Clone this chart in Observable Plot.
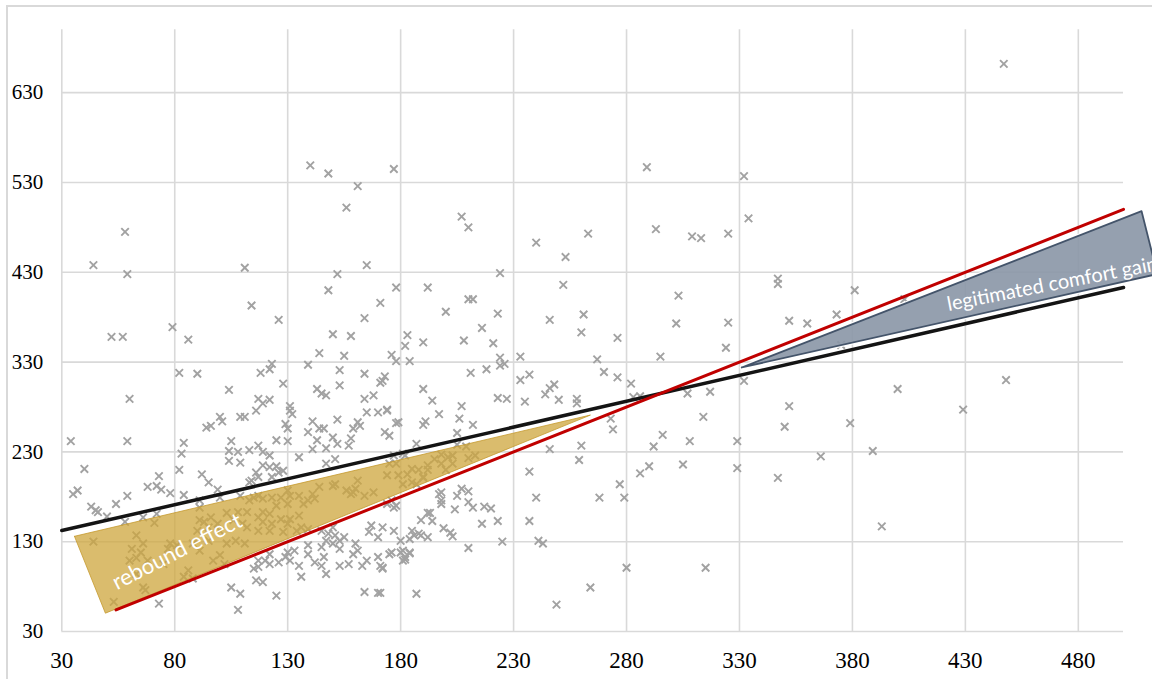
<!DOCTYPE html>
<html>
<head>
<meta charset="utf-8">
<script src="https://cdn.jsdelivr.net/npm/d3@7"></script>
<script src="https://cdn.jsdelivr.net/npm/@observablehq/plot@0.6"></script>
<style>
  html, body { margin: 0; padding: 0; background: #ffffff; overflow: hidden; }
  #wrap { position: relative; width: 1152px; height: 679px; overflow: hidden; }
  #frame { position: absolute; left: 6px; top: 5px; width: 1300px; height: 800px; border: 2px solid #d9d9d9; box-sizing: border-box; }
  #chart { position: absolute; left: 0; top: 0; }
</style>
</head>
<body>
<div id="wrap"><div id="frame"></div><div id="chart"></div></div>
<script>
// ---- axis ticks ----
const xTicks = [30, 80, 130, 180, 230, 280, 330, 380, 430, 480];
const yTicks = [30, 130, 230, 330, 430, 530, 630];
const xDomain = [30, 500];
const yDomain = [30, 700];

// ---- scatter observations [x, y] ----
const observations = [
  [447,662],[140,549],[148,540],[161,526],[177,545],[156,502],[289,547],[332,537],[334,490],[207,492],
  [210,480],[293,478],[309,470],[313,468],[325,473],[263,473],[240,463],[253,447],[58,475],[44,438],
  [59,428],[111,435],[224,429],[152,428],[165,438],[252,416],[178,413],[347,423],[347,417],[148,410],
  [192,413],[212,400],[210,400],[303,404],[381,410],[403,400],[373,383],[352,376],[360,373],[302,373],
  [325,374],[114,393],[126,377],[79,369],[86,355],[52,358],[57,358],[60,289],[34,242],[59,242],
  [40,211],[35,183],[37,187],[43,169],[45,165],
  [200,386],[223,384],[216,368],[183,360],[182,348],[190,352],[208,354],[221,351],[246,377],[261,383],
  [260,363],[276,357],[267,333],[324,346],[295,336],[176,338],[178,331],[184,331],[224,335],[226,328],
  [233,336],[224,326],[173,314],[172,309],[211,318],[218,322],[190,300],[194,287],[197,272],[207,281],
  [206,267],[212,260],[191,264],[178,262],[174,277],[223,290],[227,289],[233,310],[237,316],[235,286],
  [244,294],[246,301],[248,305],[250,288],[258,289],[258,284],[270,319],[276,313],[282,306],[283,291],
  [286,292],[273,267],[307,295],[317,297],[314,269],[332,309],
  [274,255],[260,237],[259,221],[246,233],[237,208],[240,179],[237,153],[241,131],[243,128],[249,60],
  [264,79],[268,179],[277,194],[279,179],[280,101],[286,206],[290,214],[292,236],[296,249],[305,216],
  [308,242],[315,101],[329,242],[329,212],[347,201],[187,72],[210,123],[225,130],[223,153],[216,150],
  [220,167],[217,169],[212,168],[210,174],[210,186],[207,189],[205,181],[204,166],[198,185],[198,176],
  [193,162],[194,153],[189,154],[199,145],[202,140],[203,136],[189,137],[186,137],[180,131],[177,142],
  [175,116],[180,118],[182,110],[184,117],[172,101],[171,73],[177,168],[176,176],[173,252],[175,248],
  [181,194],[185,196],[183,205],[188,210],[192,210],[190,201],[198,227],[200,210],[203,217],[203,226],
  [205,251],[205,238],[209,236],[210,223],[213,226],[187,239],[182,226],[177,226],[178,217],[190,260],
  [150,361],[158,359],[144,340],[155,337],[123,328],[118,318],[122,322],[139,327],[153,321],[164,317],
  [171,307],[128,306],[153,304],[143,300],[145,295],[147,293],[117,289],[122,288],[164,289],[168,293],
  [131,281],[132,272],[116,276],[165,274],[170,274],[174,276],[152,266],[141,264],[129,261],[161,263],
  [162,259],[159,256],[179,263],[144,256],[146,256],[139,252],[130,256],[150,246],[158,245],[125,243],
  [130,242],[143,243],[152,239],[157,237],[147,234],[141,233],[119,230],[122,226],[117,237],[135,224],
  [151,222],[147,217],[119,215],[122,213],[125,214],[126,207],[116,207],[117,202],
  [123,202],[128,209],[117,181],[119,178],[123,179],[127,179],[130,187],[131,181],[135,181],[137,172],
  [139,176],[142,178],[141,183],[144,191],[150,192],[151,194],[156,187],[158,183],[159,185],[160,189],
  [161,198],[164,181],[168,185],[174,204],[179,204],[175,217],[185,211],[192,215],[195,222],[201,224],
  [198,217],[181,228],[187,194],[190,202],[130,172],[125,170],[119,163],[122,161],[117,157],[119,152],
  [123,150],[122,142],[117,142],[127,155],[131,155],[130,150],[135,159],[136,146],[139,144],[134,142],
  [128,141],
  [145,142],[148,139],[151,137],[155,135],[153,131],[150,128],[147,131],[160,128],[161,120],[159,116],
  [153,122],[145,124],[139,126],[139,116],[133,120],[130,118],[129,113],[131,109],[126,107],[120,109],
  [122,116],[117,102],[122,105],[135,103],[142,107],[145,103],[147,94],[153,103],[157,105],[163,103],
  [165,109],[171,103],[172,100],[170,113],[176,118],[181,120],[182,113],[181,109],[184,118],[184,133],
  [188,139],[185,142],[192,135],[192,162],[198,172],[197,183],[172,146],[170,135],[166,141],[167,148],
  [174,172],[178,170],[164,74],[170,73],[125,70],[136,91],[119,85],[116,87],[146,113],[150,146],
  [82,318],[90,317],[104,299],[100,269],[101,264],[94,257],[96,259],[109,269],[111,269],[105,242],
  [84,240],[83,228],[104,231],[104,220],[108,230],[109,218],[113,232],[82,210],[92,205],[95,196],
  [99,188],[84,182],[78,184],[73,203],[68,191],[72,192],[74,188],[59,181],[46,163],[54,172],
  [50,158],[58,152],[66,157],[72,161],[71,151],[91,176],[91,168],[100,179],[109,181],[113,196],
  [114,198],[44,130],[63,137],[66,128],[61,122],[65,118],[63,112],[60,109],[68,109],[53,63],
  [67,76],[73,61],[63,94],[66,79],[75,105],[77,122],[78,128],[81,126],[84,91],[88,89],
  [86,98],[88,128],[91,120],[95,131],[91,154],[90,142],[95,146],[99,150],[100,142],[93,152],
  [103,128],[107,131],[100,115],[97,109],[102,105],[110,150],[112,146],[103,162],[108,163],[112,163],
  [106,154],[113,176],[115,179],[115,100],[117,109],[105,79],[109,72],[108,54],[96,157],[111,128],
  [171,396],[164,379],[131,276],[119,284],
  [375,349],[400,300],[448,310],[429,277],[352,281],[350,258],[379,262],[366,225],[389,231],[393,147]
];

// ---- fitted line (black) and parity line y = x (red) ----
const fitIntercept = 125.1;
const fitSlope = 0.576;
const fitXRange = [30, 500];
const parityXRange = [54, 500];

// ---- annotated areas (vertices) ----
const reboundArea = [[35.6, 136], [49.3, 50.4], [264, 271]];
const comfortArea = [[331, 324], [508, 498], [515, 428]];

// ---- annotation labels ----
const labelTexts = ["rebound effect", "legitimated comfort gain"];
const labelX = [53, 422];
const labelY = [83, 394];
const labelAngle = [-27, -11];
const labelSize = [22, 20];

// ---- derived tables ----
const fitLine = fitXRange.map(x => ({x, y: fitIntercept + fitSlope * x}));
const parityLine = parityXRange.map(x => ({x, y: x}));
const closeRing = pts => [...pts, pts[0]].map(([x, y]) => ({x, y}));
const labels = labelTexts.map((text, i) => ({text, x: labelX[i], y: labelY[i], rotate: labelAngle[i], size: labelSize[i]}));

const grid = "#d9d9d9";
const serif = "'Liberation Serif', 'DejaVu Serif', serif";
const sans = "Lato, 'Open Sans', sans-serif";

const chart = Plot.plot({
  width: 1152,
  height: 679,
  marginLeft: 61.3,
  marginRight: 29,
  marginTop: 29.3,
  marginBottom: 48,
  style: {background: "transparent", overflow: "visible"},
  x: {domain: xDomain},
  y: {domain: yDomain},
  marks: [
    Plot.ruleX(xTicks, {x: d => d, y1: yDomain[0], y2: yDomain[1], stroke: grid, strokeWidth: 1.6}),
    Plot.ruleY(yTicks, {y: d => d, x1: xDomain[0], x2: xDomain[1], stroke: grid, strokeWidth: 1.6}),
    Plot.dot(observations, {x: d => d[0], y: d => d[1], symbol: "times", r: 3.5, stroke: "#a2a2a2", strokeWidth: 1.9}),
    Plot.line(closeRing(reboundArea), {x: "x", y: "y", fill: "#cda53c", fillOpacity: 0.75, stroke: "#c59a2e", strokeOpacity: 0.8, strokeWidth: 1}),
    Plot.line(closeRing(comfortArea), {x: "x", y: "y", fill: "none", stroke: "#ffffff", strokeWidth: 4}),
    Plot.line(fitLine, {x: "x", y: "y", stroke: "#141414", strokeWidth: 3.5}),
    Plot.line(parityLine, {x: "x", y: "y", stroke: "#c00000", strokeWidth: 3}),
    Plot.line(closeRing(comfortArea), {x: "x", y: "y", fill: "#8a96a6", fillOpacity: 0.9, stroke: "#44546a", strokeWidth: 1.8}),
    Plot.text(labels, {x: "x", y: "y", text: "text", rotate: "rotate", fontSize: d => d.size, textAnchor: "start", fill: "#ffffff", fontFamily: sans}),
    Plot.axisX(xTicks, {tickSize: 0, tickPadding: 20, fontSize: 23, fontFamily: serif, fill: "#000000", label: null}),
    Plot.axisY(yTicks, {tickSize: 0, tickPadding: 18.6, fontSize: 21, fontFamily: serif, fill: "#000000", label: null})
  ]
});
document.getElementById("chart").appendChild(chart);
</script>
</body>
</html>
